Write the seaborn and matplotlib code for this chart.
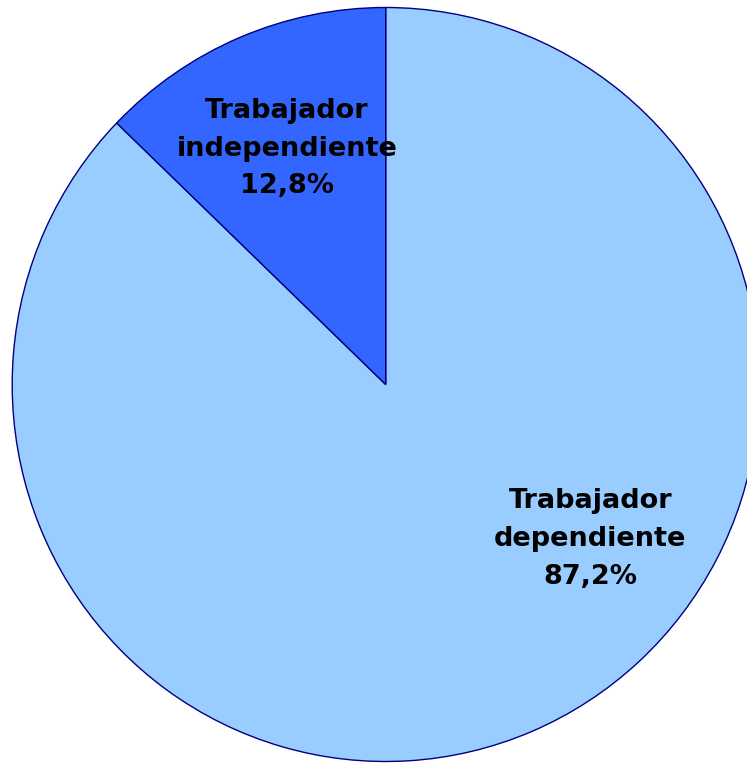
import seaborn as sns
import matplotlib.pyplot as plt

# data
categories = ['Trabajador\ndependiente', 'Trabajador\nindependiente']
shares = [87.2, 12.8]
colors = ['#99CCFF', '#3366FF']
label_pos = [(0.548, -0.41), (-0.265, 0.625)]


def visualize():
    sns.set_theme()
    sns.set_style('white')
    plt.rcParams['font.family'] = ['DejaVu Sans']

    fig = plt.figure(figsize=(7.47, 7.63), dpi=100)
    rx, ry = 373.5, 377
    cx, cy = 385.7, 763 - 384.5
    ax = fig.add_axes([(cx - rx) / 747, (cy - ry) / 763, 2 * rx / 747, 2 * ry / 763])
    ax.pie(shares, colors=colors, startangle=90, counterclock=False,
           wedgeprops={'edgecolor': '#000080', 'linewidth': 1.0}, radius=1)
    ax.set_xlim(-1, 1)
    ax.set_ylim(-1, 1)
    ax.set_aspect('auto')
    ax.axis('off')

    for name, val, (x, y) in zip(categories, shares, label_pos):
        txt = f'{name}\n{val:.1f}%'.replace('.', ',')
        ax.text(x, y, txt, ha='center', va='center', fontsize=19.5,
                fontweight='bold', color='black', linespacing=1.58)

    fig.savefig('out.png', dpi=100)


if __name__ == '__main__':
    visualize()
